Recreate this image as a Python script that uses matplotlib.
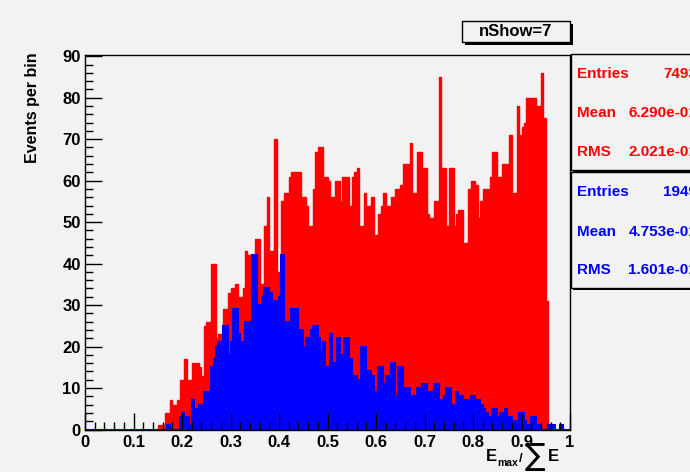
import numpy as np
import matplotlib.pyplot as plt
from matplotlib.patches import Rectangle

plt.rcParams['font.family'] = ['Liberation Sans', 'DejaVu Sans']
plt.rcParams['font.weight'] = 'bold'

W, H = 690, 472
BG = '#f2f2f2'

# 200 bins from 0 to 1
nbins = 200
edges = np.linspace(0, 1, nbins + 1)

# bin contents, starting at bin red_start / blue_start
red_start = 30
red_counts = [
    1, 1, 1, 4, 4, 7, 6, 6, 7, 12,
    12, 17, 12, 12, 16, 16, 16, 15, 13, 25,
    26, 26, 40, 40, 22, 23, 23, 29, 29, 33,
    34, 34, 35, 32, 32, 34, 43, 42, 42, 42,
    46, 46, 35, 35, 49, 56, 43, 43, 70, 38,
    38, 55, 57, 57, 61, 62, 62, 62, 62, 56,
    56, 54, 49, 49, 58, 67, 68, 68, 61, 61,
    60, 56, 56, 60, 60, 55, 61, 61, 61, 54,
    61, 62, 63, 49, 49, 57, 54, 54, 56, 47,
    47, 52, 54, 57, 54, 54, 56, 56, 58, 58,
    59, 64, 64, 64, 69, 57, 57, 67, 67, 63,
    63, 52, 51, 51, 55, 55, 85, 63, 63, 49,
    63, 63, 49, 52, 53, 53, 45, 45, 58, 60,
    60, 59, 51, 55, 58, 58, 58, 61, 67, 67,
    61, 61, 64, 64, 64, 71, 57, 57, 78, 71,
    73, 74, 80, 80, 80, 80, 78, 78, 86, 75,
    31,
]

blue_start = 34
blue_counts = [
    1, 0, 0, 0, 0,
    3, 4, 3, 3, 1, 7, 5, 5, 6, 6,
    9, 9, 9, 15, 17, 20, 21, 21, 25, 25,
    18, 21, 29, 29, 23, 21, 21, 26, 26, 24,
    42, 42, 30, 30, 32, 34, 34, 33, 31, 31,
    28, 32, 42, 26, 26, 26, 29, 29, 29, 24,
    24, 20, 22, 22, 24, 25, 25, 22, 19, 21,
    15, 15, 23, 16, 16, 22, 18, 18, 22, 22,
    17, 13, 13, 12, 12, 20, 20, 14, 14, 13,
    9, 9, 15, 15, 11, 13, 13, 16, 16, 8,
    15, 15, 10, 10, 10, 8, 8, 8, 10, 10,
    11, 11, 9, 9, 9, 11, 11, 7, 7, 8,
    10, 10, 6, 5, 9, 8, 8, 7, 7, 7,
    8, 8, 7, 7, 6, 5, 4, 3, 3, 5,
    5, 3, 4, 4, 5, 3, 3, 2, 2, 2,
    4, 4, 2, 1, 1, 3, 3, 1, 1, 0,
    0, 0, 1, 0, 1, 0, 0, 1,
]

red_stats = [('Entries', '7493'), ('Mean', '6.290e-01'), ('RMS', '2.021e-01')]
blue_stats = [('Entries', '1949'), ('Mean', '4.753e-01'), ('RMS', '1.601e-01')]

red = np.zeros(nbins)
red[red_start:red_start + len(red_counts)] = red_counts
blue = np.zeros(nbins)
blue[blue_start:blue_start + len(blue_counts)] = blue_counts


def fx(px):
    return px / W


def fy(py):
    return 1 - py / H


fig = plt.figure(figsize=(W / 100, H / 100), dpi=100, facecolor=BG)
ax = fig.add_axes([fx(85), fy(429.5), fx(570) - fx(85), fy(55) - fy(429.5)])
ax.set_facecolor(BG)

ax.stairs(red, edges, fill=True, color='#ff0000', lw=0)
ax.stairs(red, edges, color='#ff0000', lw=1)
ax.stairs(blue, edges, fill=True, color='#0000ff', lw=0)
ax.stairs(blue, edges, color='#0000ff', lw=1.5)

ax.set_xlim(0, 1)
ax.set_ylim(0, 90.3)
ax.set_axisbelow(False)

ax.set_xticks(np.arange(0, 1.01, 0.1))
ax.set_xticks(np.arange(0, 1.001, 0.02), minor=True)
ax.set_yticks(np.arange(0, 91, 10))
ax.set_yticks(np.arange(0, 91, 2), minor=True)
ax.set_xticklabels(['%g' % round(v, 1) for v in np.arange(0, 1.01, 0.1)])
ax.tick_params(which='major', direction='in', length=12, width=1, labelsize=12)
ax.tick_params(axis='x', which='major', pad=4)
ax.tick_params(axis='y', which='major', pad=3)
ax.tick_params(which='minor', direction='in', length=6, width=1)
for s in ax.spines.values():
    s.set_linewidth(1)

fig.text(fx(32), fy(108), 'Events per bin', rotation=90, ha='center', va='center',
         fontsize=11.5)

# x axis title: E_max / sum E, pieced together
fig.text(fx(486), fy(461), 'E', ha='left', va='baseline', fontsize=12)
fig.text(fx(497), fy(466), 'max', ha='left', va='baseline', fontsize=7.5)
fig.text(fx(519), fy(462), '/', ha='left', va='baseline', fontsize=9.5)
fig.text(fx(535), fy(465), '\u2211', ha='center', va='baseline', fontsize=22,
         family='DejaVu Sans', fontweight='normal')
fig.text(fx(548), fy(461), 'E', ha='left', va='baseline', fontsize=12)


def box(x0, y0, x1, y1, shadow=3):
    # drop shadow first, then the box itself
    fig.add_artist(Rectangle((fx(x0 + shadow), fy(y1 + shadow)), fx(x1) - fx(x0),
                             fy(y0) - fy(y1), transform=fig.transFigure,
                             facecolor='black', edgecolor='black', lw=0))
    fig.add_artist(Rectangle((fx(x0), fy(y1)), fx(x1) - fx(x0), fy(y0) - fy(y1),
                             transform=fig.transFigure, facecolor=BG,
                             edgecolor='black', lw=1))


# title box
box(462, 21, 570, 42, shadow=3)
fig.text(fx(516), fy(31.5), 'nShow=7', ha='center', va='center', fontsize=12)

# statistics boxes
box(571, 54, 720, 170, shadow=2)
box(571, 172, 720, 288, shadow=2)
for stats, color, ys in [(red_stats, '#ff0000', [74, 113, 152]),
                         (blue_stats, '#0000ff', [192, 232, 270])]:
    for (name, val), y in zip(stats, ys):
        fig.text(fx(577), fy(y), name, ha='left', va='center', color=color, fontsize=11)
        fig.text(fx(697), fy(y), val, ha='right', va='center', color=color, fontsize=11)

fig.savefig('out.png', dpi=100, facecolor=BG)
